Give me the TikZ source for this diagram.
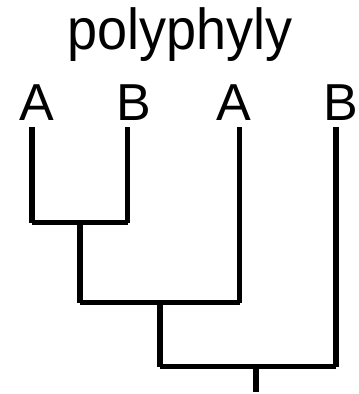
\documentclass[tikz,border=0pt]{standalone}
\usepackage{fontspec}
\setmainfont{Liberation Sans}

\begin{document}
\begin{tikzpicture}[x=1pt, y=-1pt,
	branch/.style={line width=5.3pt, line cap=butt, color=black},
	taxon/.style={anchor=base, inner sep=0pt, font=\fontsize{52}{52}\selectfont}]

	\useasboundingbox (0,0) rectangle (359,394);

	% tips of the tree
	\coordinate (t0) at (32, 127);
	\coordinate (t1) at (127.5, 127);
	\coordinate (t2) at (239.5, 127);
	\coordinate (t3) at (336, 127);

	% inner nodes
	\coordinate (n0) at (80, 222.5);
	\coordinate (n1) at (160, 302.5);
	\coordinate (n2) at (256, 366.5);
	\coordinate (r) at (256, 392);

	\node[taxon, font=\fontsize{54}{54}\selectfont] (title) at (180, 49)
		{\scalebox{1}[1.07]{polyphyly}};
	\node[taxon] (l0) at (36.5, 120) {A};
	\node[taxon] (l1) at (133.5, 120) {B};
	\node[taxon] (l2) at (234, 120) {A};
	\node[taxon] (l3) at (341, 120) {B};

	% (A,B)
	\draw[branch] (t0) -- (t0 |- n0);
	\draw[branch] (t1) -- (t1 |- n0);
	\draw[branch] (t0 |- n0) -- (t1 |- n0);

	% ((A,B),A)
	\draw[branch] (n0) -- (n0 |- n1);
	\draw[branch] (t2) -- (t2 |- n1);
	\draw[branch] (n0 |- n1) -- (t2 |- n1);

	% (((A,B),A),B)
	\draw[branch] (n1) -- (n1 |- n2);
	\draw[branch] (t3) -- (t3 |- n2);
	\draw[branch] (n1 |- n2) -- (t3 |- n2);
	\draw[branch] (n2) -- (r);

\end{tikzpicture}
\end{document}
